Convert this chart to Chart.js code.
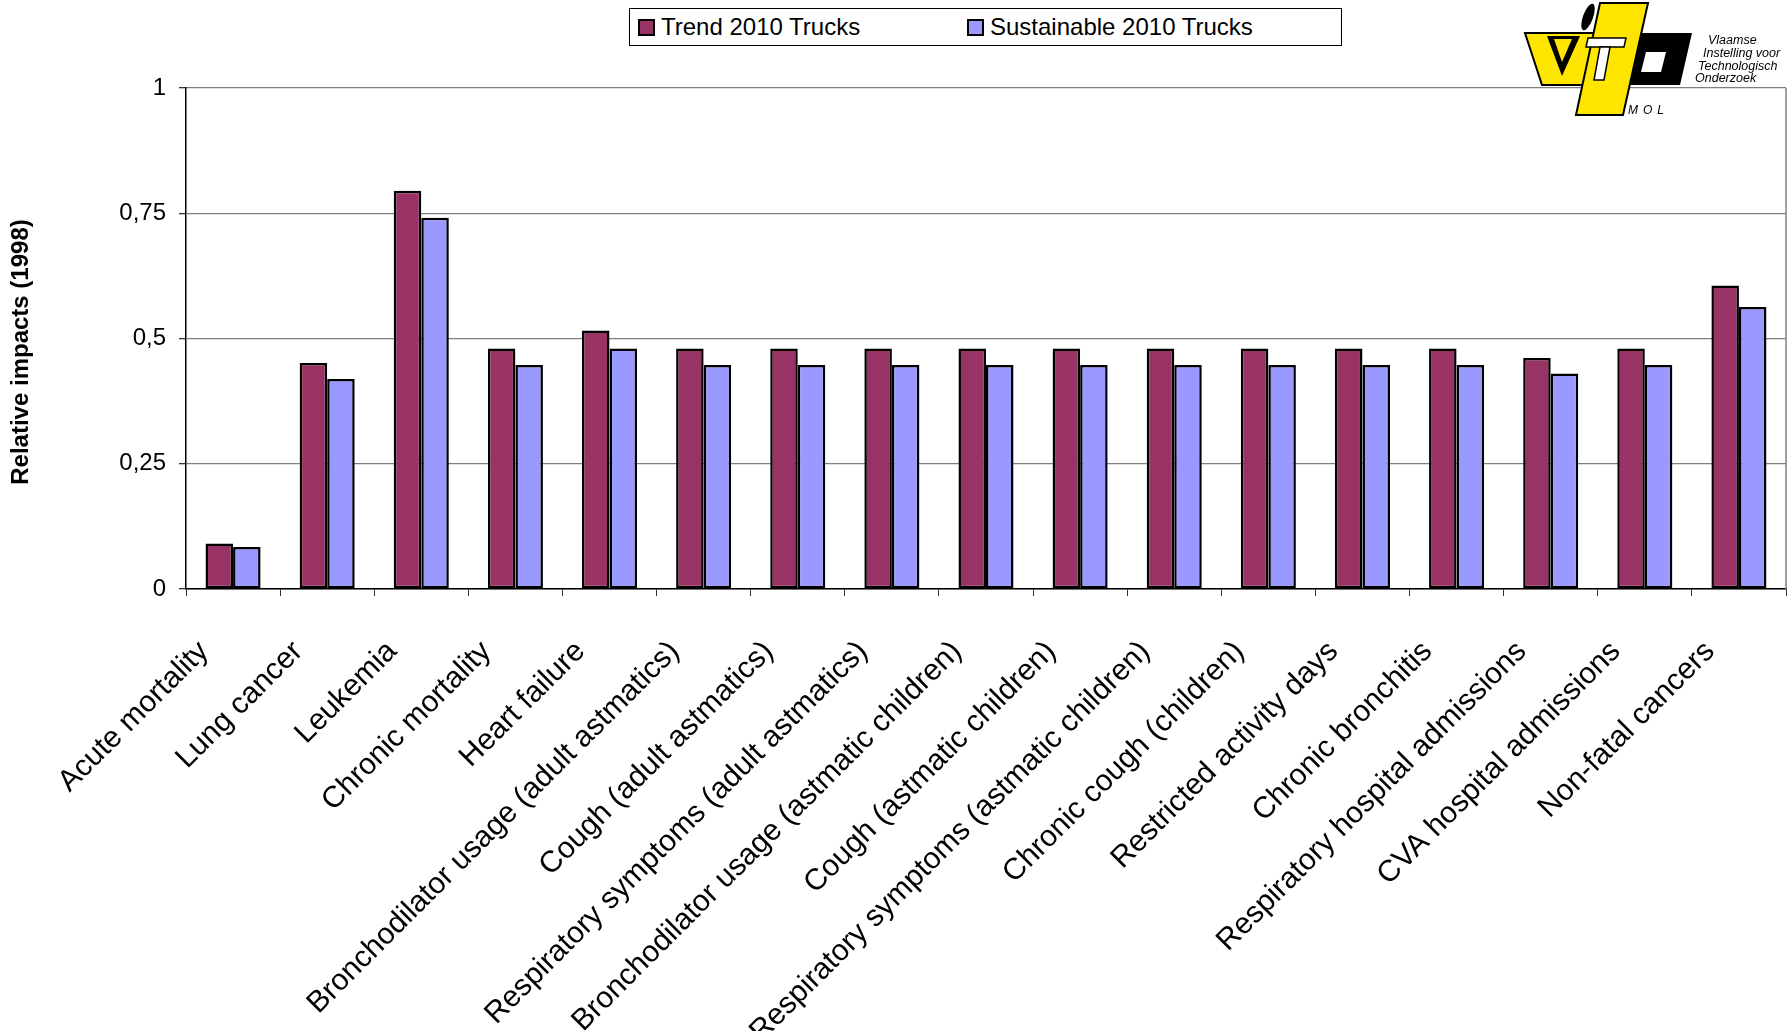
<!DOCTYPE html>
<html>
<head>
<meta charset="utf-8">
<title>Relative impacts (1998)</title>
<script src="https://cdn.jsdelivr.net/npm/chart.js@4.4.1/dist/chart.umd.min.js"></script>
<style>
  html, body { margin: 0; padding: 0; background: #fff; }
  #wrap { position: relative; width: 1791px; height: 1031px; font-family: "Liberation Sans", Arial, sans-serif; }
  #chart { position: absolute; left: 0; top: 0; }
  #legend { position: absolute; left: 629px; top: 8px; width: 711px; height: 36px; border: 1px solid #000; background: #fff; }
  .item { position: absolute; top: 0; height: 36px; display: flex; align-items: center; font-size: 24px; color: #000; white-space: nowrap; }
  .swatch { width: 13px; height: 13px; border: 2px solid #000; margin-right: 6px; }
  #logo { position: absolute; left: 1500px; top: 0; }
</style>
</head>
<body>
<div id="wrap">
  <canvas id="chart" width="1791" height="1031"></canvas>
  <div id="legend"></div>
  <svg id="logo" width="291" height="130" viewBox="0 0 291 130">
    <rect x="25" y="0" width="259" height="86" fill="#fff"/>
    <!-- black band behind the letters -->
    <polygon points="92,33 192,33 180,85 80,85" fill="#000"/>
    <!-- V block -->
    <polygon points="25,33 96,33 84,85 42,85" fill="#ffe600" stroke="#000" stroke-width="2"/>
    <polygon points="47,36 80,36 62,76" fill="#000"/>
    <polygon points="54,39 72,39 62,62" fill="#ffe600"/>
    <!-- slanted stem -->
    <polygon points="100,3 148,3 123,115 76,115" fill="#ffe600" stroke="#000" stroke-width="2"/>
    <!-- T cut-out -->
    <polygon points="88,38 126,38 124,47 86,47" fill="#fff" stroke="#000" stroke-width="1.5"/>
    <polygon points="100,47 110,47 104,80 94,80" fill="#fff" stroke="#000" stroke-width="1.5"/>
    <!-- O cut-out -->
    <polygon points="146,52 166,52 161,72 141,72" fill="#fff"/>
    <!-- dot -->
    <ellipse cx="88" cy="17" rx="5" ry="14" transform="rotate(20 88 17)" fill="#000"/>
    <text x="128" y="114" font-family="Liberation Sans, Arial, sans-serif" font-style="italic" font-size="12" letter-spacing="5" fill="#000">MOL</text>
    <g font-family="Liberation Sans, Arial, sans-serif" font-style="italic" font-size="12.5" fill="#000">
      <text x="208" y="44">Vlaamse</text>
      <text x="203" y="57">Instelling voor</text>
      <text x="198" y="70">Technologisch</text>
      <text x="195" y="82">Onderzoek</text>
    </g>
  </svg>
</div>
<script>
// health endpoints on the x axis
const categories = [
  "Acute mortality",
  "Lung cancer",
  "Leukemia",
  "Chronic mortality",
  "Heart failure",
  "Bronchodilator usage (adult astmatics)",
  "Cough (adult astmatics)",
  "Respiratory symptoms (adult astmatics)",
  "Bronchodilator usage (astmatic children)",
  "Cough (astmatic children)",
  "Respiratory symptoms (astmatic children)",
  "Chronic cough (children)",
  "Restricted activity days",
  "Chronic bronchitis",
  "Respiratory hospital admissions",
  "CVA hospital admissions",
  "Non-fatal cancers"
];

// impacts relative to 1998
const trend2010 = [0.091, 0.451, 0.795, 0.480, 0.516, 0.480, 0.480, 0.480, 0.480,
                   0.480, 0.480, 0.480, 0.480, 0.480, 0.461, 0.480, 0.606];
const sustainable2010 = [0.084, 0.419, 0.741, 0.447, 0.480, 0.447, 0.447, 0.447, 0.447,
                         0.447, 0.447, 0.447, 0.447, 0.447, 0.430, 0.447, 0.563];

const yTicks = [0, 0.25, 0.5, 0.75, 1];
const yTitle = "Relative impacts (1998)";

Chart.defaults.font.family = '"Liberation Sans", Arial, sans-serif';
Chart.defaults.color = "#000";

// right-hand edge of the plot area and the y axis title
const plotFrame = {
    id: "plotFrame",
    beforeDatasetsDraw(chart) {
        const { ctx, chartArea } = chart;
        ctx.save();
        ctx.strokeStyle = "#808080";
        ctx.lineWidth = 1.5;
        ctx.beginPath();
        ctx.moveTo(chartArea.right, chartArea.top);
        ctx.lineTo(chartArea.right, chartArea.bottom);
        ctx.stroke();
        ctx.restore();
    },
    afterDraw(chart) {
        const ctx = chart.ctx;
        ctx.save();
        ctx.translate(21, 352);
        ctx.rotate(-Math.PI / 2);
        ctx.font = 'bold 24px "Liberation Sans", Arial, sans-serif';
        ctx.fillStyle = "#000";
        ctx.textAlign = "center";
        ctx.textBaseline = "middle";
        ctx.fillText(yTitle, 0, 0);
        ctx.restore();
    }
};

const ctx = document.getElementById("chart").getContext("2d");
const chart = new Chart(ctx, {
    type: "bar",
    data: {
        labels: categories,
        datasets: [
            {
                label: "Trend 2010 Trucks",
                data: trend2010,
                backgroundColor: "#993366",
                borderColor: "#000",
                borderWidth: 2.5,
                borderSkipped: false
            },
            {
                label: "Sustainable 2010 Trucks",
                data: sustainable2010,
                backgroundColor: "#9999ff",
                borderColor: "#000",
                borderWidth: 2.5,
                borderSkipped: false
            }
        ]
    },
    options: {
        responsive: false,
        animation: false,
        devicePixelRatio: 1,
        layout: { padding: { top: 88, right: 5, left: 0, bottom: 0 } },
        datasets: { bar: { categoryPercentage: 0.585, barPercentage: 1 } },
        plugins: {
            legend: { display: false },
            tooltip: { enabled: false }
        },
        scales: {
            x: {
                afterFit: (scale) => {
                    scale.height = 442;
                    scale.paddingLeft = 0;
                    scale.paddingRight = 0;
                },
                ticks: {
                    font: { size: 30 },
                    color: "#000",
                    minRotation: 45,
                    maxRotation: 45,
                    autoSkip: false,
                    labelOffset: -29,
                    padding: 38
                },
                grid: { drawOnChartArea: false, offset: true, tickLength: 7, tickColor: "#333" },
                border: { color: "#000", width: 1.5 }
            },
            y: {
                min: 0,
                max: 1,
                afterBuildTicks: (scale) => { scale.ticks = yTicks.map(v => ({ value: v })); },
                afterFit: (scale) => { scale.width = 186; },
                ticks: {
                    font: { size: 24 },
                    color: "#000",
                    padding: 13,
                    callback: (v) => String(v).replace(".", ",")
                },
                grid: { color: "#808080", lineWidth: 1.3, tickColor: "#333", tickLength: 7 },
                border: { color: "#000", width: 1.5 }
            }
        }
    },
    plugins: [plotFrame]
});

// legend box built from the datasets
const legendBox = document.getElementById("legend");
const legendLeft = [8, 337];
chart.data.datasets.forEach((ds, i) => {
    const item = document.createElement("div");
    item.className = "item";
    item.style.left = legendLeft[i] + "px";
    const swatch = document.createElement("span");
    swatch.className = "swatch";
    swatch.style.background = ds.backgroundColor;
    item.appendChild(swatch);
    item.appendChild(document.createTextNode(ds.label));
    legendBox.appendChild(item);
});
</script>
</body>
</html>
